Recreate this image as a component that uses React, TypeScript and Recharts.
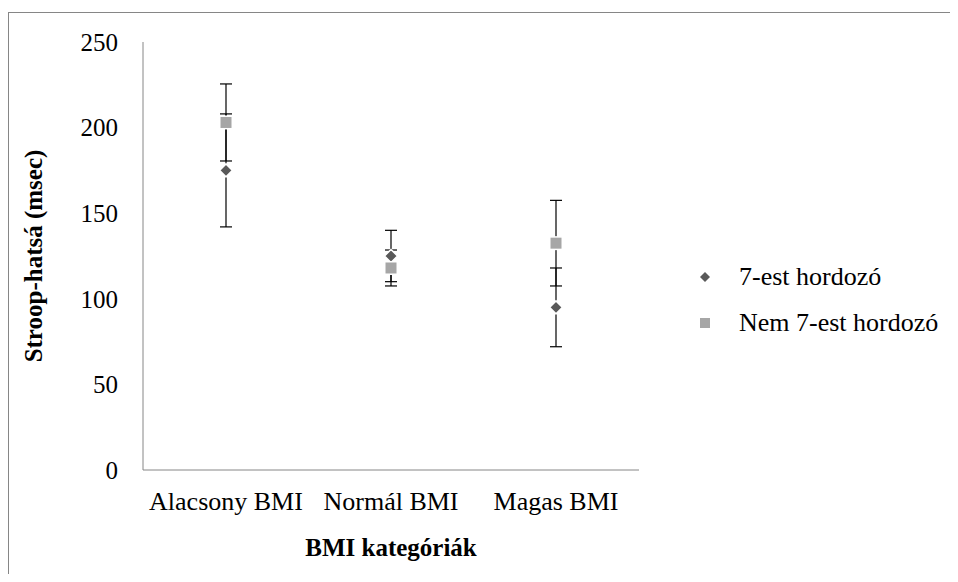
import { ComposedChart, Scatter, XAxis, YAxis, ErrorBar, Legend, Label } from 'recharts'

const categories = ['Alacsony BMI', 'Normál BMI', 'Magas BMI']
const carrierMeans = [175, 125, 95]
const carrierErrors = [33, 15, 23]
const nonCarrierMeans = [203, 118, 132.5]
const nonCarrierErrors = [22.5, 10.5, 25]
const yTicks = [0, 50, 100, 150, 200, 250]

const data = categories.map((cat, i) => ({
  cat,
  carrier: carrierMeans[i],
  carrierErr: carrierErrors[i],
  nonCarrier: nonCarrierMeans[i],
  nonCarrierErr: nonCarrierErrors[i],
}))

const FONT = '"Liberation Serif", "Times New Roman", serif'
const COLORS = {
  diamond: '#595959',
  square: '#a6a6a6',
  axis: '#868686',
  text: '#000000',
} as const

const Diamond = (props: any) => {
  const { cx, cy } = props
  const r = 6.5
  return (
    <polygon
      points={`${cx},${cy - r} ${cx + r},${cy} ${cx},${cy + r} ${cx - r},${cy}`}
      fill={COLORS.diamond}
      stroke="#fff"
      strokeWidth={1.5}
    />
  )
}

const Square = (props: any) => {
  const { cx, cy } = props
  const s = 12.5
  return (
    <rect x={cx - s / 2} y={cy - s / 2} width={s} height={s} fill={COLORS.square} stroke="#fff" strokeWidth={1.5} />
  )
}

const renderLegend = (props: any) => {
  const items = props.payload || []
  return (
    <div style={{ fontFamily: FONT, fontSize: 26, color: COLORS.text }}>
      {items.map((item: any, i: number) => (
        <div key={item.value} style={{ display: 'flex', alignItems: 'center', height: 46 }}>
          <svg width={43} height={20} style={{ flex: 'none' }}>
            {i === 0 ? (
              <polygon points="9,5 14,10 9,15 4,10" fill={COLORS.diamond} />
            ) : (
              <rect x={4} y={5} width={10} height={10} fill={COLORS.square} />
            )}
          </svg>
          <span>{item.value}</span>
        </div>
      ))}
    </div>
  )
}

const YTitle = (props: any) => {
  const { viewBox } = props
  const x = 25
  const y = viewBox.y + viewBox.height / 2
  return (
    <text
      x={x}
      y={y}
      transform={`rotate(-90 ${x} ${y})`}
      textAnchor="middle"
      dominantBaseline="central"
      fontFamily={FONT}
      fontSize={25}
      fontWeight="bold"
      fill={COLORS.text}
    >
      Stroop-hatsá (msec)
    </text>
  )
}

const XTitle = (props: any) => {
  const { viewBox } = props
  return (
    <text
      x={viewBox.x + viewBox.width / 2}
      y={539}
      textAnchor="middle"
      dominantBaseline="central"
      fontFamily={FONT}
      fontSize={25}
      fontWeight="bold"
      fill={COLORS.text}
    >
      BMI kategóriák
    </text>
  )
}

export default function App() {
  return (
    <div style={{ position: 'relative', width: 942, height: 566 }}>
      <div
        style={{
          position: 'absolute',
          left: 0,
          top: 4,
          width: 942,
          height: 562,
          borderTop: `1px solid ${COLORS.axis}`,
          borderLeft: `1px solid ${COLORS.axis}`,
          boxSizing: 'border-box',
        }}
      />
      <div style={{ position: 'absolute', left: 0, top: 0 }}>
        <ComposedChart
          width={942}
          height={566}
          data={data}
          margin={{ top: 34, right: 311, bottom: 4, left: 0 }}
        >
          <XAxis
            dataKey="cat"
            type="category"
            height={100}
            padding={{ left: 83, right: 83 }}
            axisLine={{ stroke: COLORS.axis }}
            tickLine={false}
            tickSize={0}
            tickMargin={22}
            tick={{ fontFamily: FONT, fontSize: 26, fill: COLORS.text }}
            interval={0}
          >
            <Label content={<XTitle />} />
          </XAxis>
          <YAxis
            type="number"
            domain={[0, 250]}
            ticks={yTicks}
            width={135}
            axisLine={{ stroke: COLORS.axis }}
            tickLine={false}
            tickSize={0}
            tickMargin={25}
            tick={{ fontFamily: FONT, fontSize: 25, fill: COLORS.text }}
          >
            <Label content={<YTitle />} />
          </YAxis>
          <Legend
            layout="vertical"
            align="center"
            verticalAlign="middle"
            content={renderLegend}
            wrapperStyle={{ left: 688, top: 246, width: 260 }}
          />
          <Scatter name="7-est hordozó" dataKey="carrier" shape={<Diamond />} isAnimationActive={false}>
            <ErrorBar dataKey="carrierErr" direction="y" width={6} stroke="#000" strokeWidth={1.2} />
          </Scatter>
          <Scatter name="Nem 7-est hordozó" dataKey="nonCarrier" shape={<Square />} isAnimationActive={false}>
            <ErrorBar dataKey="nonCarrierErr" direction="y" width={6} stroke="#000" strokeWidth={1.2} />
          </Scatter>
        </ComposedChart>
      </div>
    </div>
  )
}
